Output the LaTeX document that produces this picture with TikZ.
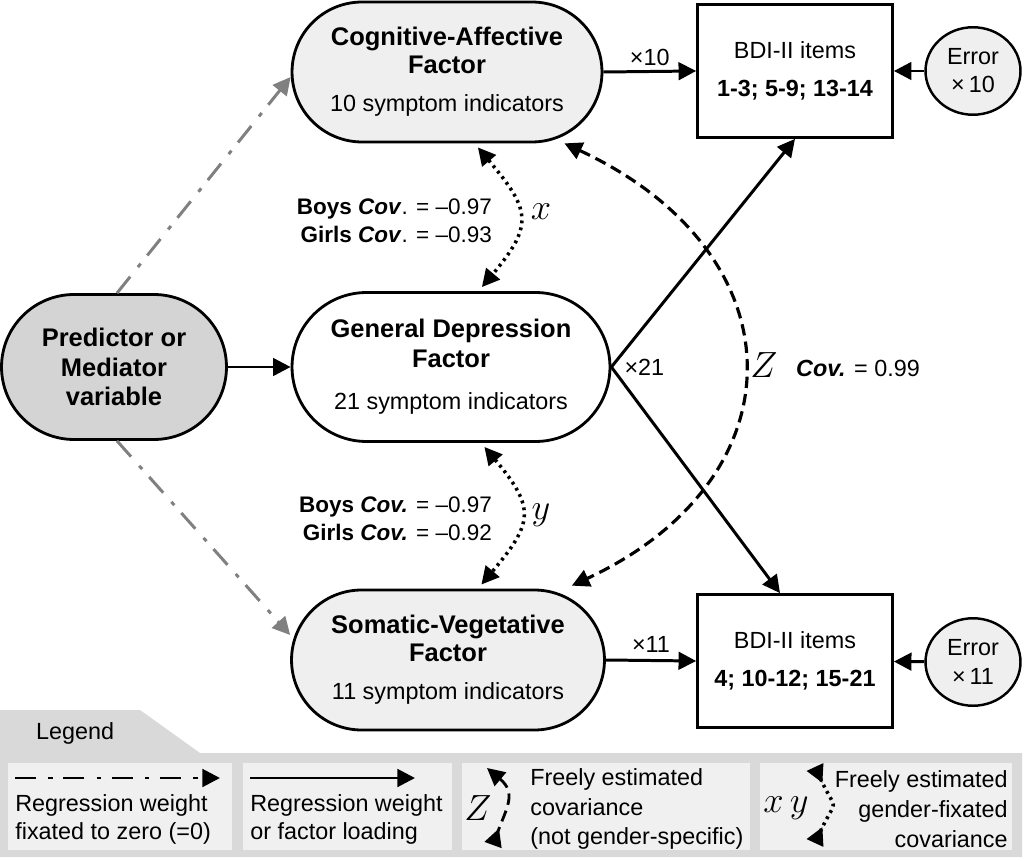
\documentclass[tikz,border=0pt]{standalone}
\usepackage{fontspec}
\setmainfont{Liberation Sans}
\usetikzlibrary{arrows.meta, positioning, calc, shapes.geometric}
\renewcommand{\normalsize}{\fontsize{13.3}{16}\selectfont}
\newcommand{\subline}[1]{{\fontsize{13.3}{16}\selectfont #1}}
\definecolor{factorgrey}{HTML}{EFEFEF}
\definecolor{predgrey}{HTML}{D4D4D4}
\definecolor{legendgrey}{HTML}{D9D9D9}
\definecolor{legendbox}{HTML}{F0F0F0}
\definecolor{zerogrey}{HTML}{808080}
\tikzset{
  tri/.tip={Triangle[length=10pt,width=10pt]},
  revtri/.tip={Triangle[length=10pt,width=10pt,reversed]},
  factor/.style={draw, line width=1.6pt, rounded corners=1.4cm, align=center, fill=factorgrey, minimum width=6.2cm, minimum height=2.8cm, inner sep=0pt, font=\fontsize{14.5}{16}\selectfont},
  items/.style={draw, line width=1.6pt, align=center, minimum width=3.9cm, minimum height=2.66cm, inner sep=0pt},
  err/.style={draw, ellipse, line width=1.4pt, fill=factorgrey, align=center, minimum width=1.9cm, minimum height=1.75cm, inner sep=0pt},
  load/.style={-{tri}, line width=1.7pt},
  zeroreg/.style={-{tri}, line width=1.7pt, zerogrey, dash pattern=on 12pt off 7pt on 2.5pt off 6pt},
  fixcov/.style={line width=2pt, dash pattern=on 1.6pt off 2.4pt},
  freecov/.style={line width=1.8pt, dash pattern=on 6.5pt off 3.5pt},
  covtext/.style={anchor=east, align=right, font=\fontsize{12.8}{16}\selectfont},
  mathlbl/.style={font=\fontsize{22}{22}\selectfont, inner sep=1pt},
  legtext/.style={align=left, inner sep=0pt}
}

\begin{document}
\begin{tikzpicture}[x=0.02cm, y=-0.02cm]
  \useasboundingbox (0,0) rectangle (1024,861);

  % latent factors
  \node[factor] (cog) at (447,72) {\textbf{Cognitive-Affective}\\\textbf{Factor}\\[5.5pt]\subline{10 symptom indicators}};
  \node[factor, fill=white, minimum width=6.36cm, minimum height=2.98cm, rounded corners=1.49cm, font=\fontsize{14.5}{17}\selectfont] (gen) at (451,367) {\textbf{General Depression}\\\textbf{Factor}\\[7pt]\subline{21 symptom indicators}};
  \node[factor, minimum width=6.26cm] (som) at (448,660) {\textbf{Somatic-Vegetative}\\\textbf{Factor}\\[5.5pt]\subline{11 symptom indicators}};
  \node[factor, fill=predgrey, minimum width=4.5cm, minimum height=2.9cm, rounded corners=1.45cm, font=\fontsize{14.5}{17}\selectfont\bfseries] (pred) at (114,367) {Predictor or\\Mediator\\variable};

  % indicators and errors
  \node[items] (bdiA) at (795,71) {BDI-II items\\[6pt]\textbf{1-3; 5-9; 13-14}};
  \node[items] (bdiB) at (795,661) {BDI-II items\\[6pt]\textbf{4; 10-12; 15-21}};
  \node[err] (errA) at (973,71) {Error\\×\,10};
  \node[err] (errB) at (973,662) {Error\\×\,11};

  \draw[load] (cog.east) -- node[above=-2pt] (n10) {×10} (bdiA.west);
  \draw[load] (som.east) -- node[above=-1pt] (n11) {×11} (bdiB.west);
  \draw[load] (errA) -- (bdiA);
  \draw[load] (errB) -- (bdiB);
  \draw[load] (pred) -- (gen);
  \draw[load] (gen.east) -- (bdiA.south);
  \draw[load] (gen.east) -- ([xshift=-0.3cm]bdiB.north);
  \node[anchor=west] (n21) at ([xshift=0.1cm]gen.east) {×21};

  \draw[zeroreg] ([xshift=0.06cm]pred.north) -- ([yshift=-0.1cm]cog.west);
  \draw[zeroreg] ([xshift=0.06cm]pred.south) -- ([yshift=0.5cm]som.west);

  % covariances
  \draw[fixcov, {tri}-{tri}, shorten <=3pt, shorten >=3pt] ([xshift=0.55cm]cog.south) to[out=-50, in=50, looseness=1.5] ([xshift=0.55cm]gen.north);
  \draw[fixcov, {tri}-{tri}, shorten <=3pt, shorten >=3pt] ([xshift=0.6cm]gen.south) to[out=-50, in=50, looseness=1.5] ([xshift=0.6cm]som.north);
  \draw[freecov, {tri}-{tri}, shorten >=4pt] ([xshift=2.35cm]cog.south) to[out=-25, in=25, looseness=1.5] ([xshift=2.35cm]som.north);

  \node[covtext] (covx) at (500,221) {\textbf{Boys \textit{Cov}}. = –0.97\\\textbf{Girls \textit{Cov}}. = –0.93};
  \node[covtext] (covy) at (500,519) {\textbf{Boys \textit{Cov.}} = –0.97\\\textbf{Girls \textit{Cov.}} = –0.92};
  \node[mathlbl] (lx) at (541,212) {$x$};
  \node[mathlbl] (ly) at (541,515) {$y$};
  \node[mathlbl] (lz) at (764,365) {$Z$};
  \node[anchor=west] (covz) at (788,368) {\textbf{\textit{Cov.}} = 0.99};

  % legend
  \fill[legendgrey] (0,710) -- (140,710) -- (200,753) -- (1022,753) -- (1022,857) -- (0,857) -- cycle;
  \node[anchor=west] (legtitle) at (28,733) {Legend};
  \fill[legendbox] (8,763) rectangle (232,850);
  \fill[legendbox] (243,763) rectangle (452,850);
  \fill[legendbox] (462,763) rectangle (750,850);
  \fill[legendbox] (760,763) rectangle (1012,850);

  \coordinate (zeroA) at (15,778);
  \coordinate (zeroB) at (220,778);
  \draw[zeroreg, black] (zeroA) -- (zeroB);
  \node[legtext, anchor=north west] (zerotxt) at (15,794) {Regression weight\\fixated to zero (=0)};

  \coordinate (loadA) at (250,778);
  \coordinate (loadB) at (415,778);
  \draw[load] (loadA) -- (loadB);
  \node[legtext, anchor=north west] (loadtxt) at (250,794) {Regression weight\\or factor loading};

  \coordinate (freeA) at (487,768);
  \coordinate (freeB) at (493,845);
  \draw[freecov, line width=1.6pt, {tri}-{revtri}] (freeA) to[out=-40, in=70, looseness=1.3] (freeB);
  \node[mathlbl] (lzleg) at (478,808) {$Z$};
  \node[legtext, anchor=west] (freetxt) at (530,809) {Freely estimated\\[1pt]covariance\\[1pt](not gender-specific)};

  \coordinate (fixA) at (815,767);
  \coordinate (fixB) at (815,843);
  \draw[fixcov, {revtri}-{revtri}] (fixA) to[out=-65, in=65, looseness=1.8] (fixB);
  \node[mathlbl] (lxyleg) at (786,808) {$x\,y$};
  \node[legtext, anchor=east, align=right] (fixtxt) at (1008,809) {Freely estimated\\[1pt]gender-fixated\\[1pt]covariance};
\end{tikzpicture}
\end{document}
